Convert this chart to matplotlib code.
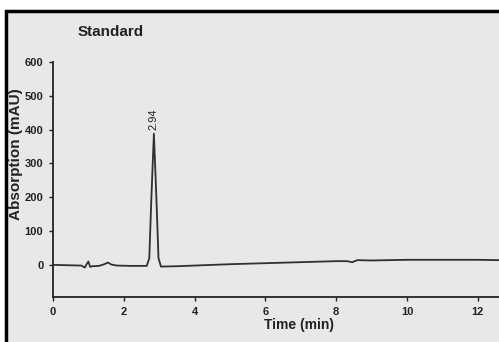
import matplotlib.pyplot as plt
from matplotlib.patches import Rectangle

plt.rcParams['font.family'] = ['Liberation Sans', 'DejaVu Sans']

# chromatogram trace: retention time (min) and absorption (mAU)
time_min = [0.0, 0.4, 0.8, 0.9, 0.95, 1.0, 1.05, 1.1, 1.3, 1.45, 1.55, 1.65, 1.8, 2.2,
            2.65, 2.72, 2.78, 2.85, 2.92, 2.98, 3.05, 3.5, 4.0, 5.0, 6.0, 7.0, 8.0,
            8.3, 8.45, 8.6, 9.0, 10.0, 11.0, 12.0, 12.6]
absorb = [0, -1, -2, -8, 2, 10, -6, -4, -3, 2, 7, 1, -2, -3,
          -3, 20, 200, 388, 200, 20, -5, -4, -2, 2, 5, 8, 11,
          11, 8, 14, 13, 15, 15, 15, 14]

peak_time = 2.85
peak_height = 388
peak_label = "2.94"

yticks = [0, 100, 200, 300, 400, 500, 600]
xticks = [0, 2, 4, 6, 8, 10, 12]

fig = plt.figure(figsize=(4.99, 3.42), dpi=100)
fig.patch.set_facecolor('white')

# scanned page area with black frame
fig.patches.append(Rectangle((6 / 499, -0.05), 1.2, 1 - 11 / 342 + 0.05,
                             transform=fig.transFigure, facecolor='#e8e8e8',
                             edgecolor='black', linewidth=2.5, zorder=-5))

ax = fig.add_axes([53 / 499, 1 - 297 / 342, 1 - 53 / 499, (297 - 62) / 342])
ax.set_zorder(2)
ax.set_facecolor('none')
ax.plot(time_min, absorb, color='#303030', linewidth=1.3)

ax.set_xlim(0, 12.6)
ax.set_ylim(-95, 600)
ax.set_xticks(xticks)
ax.set_yticks(yticks)
ax.tick_params(axis='both', labelsize=8, width=1, length=3, color='#222222', pad=4)
for lbl in ax.get_xticklabels() + ax.get_yticklabels():
    lbl.set_fontweight('bold')
    lbl.set_color('#222222')

for side in ['top', 'right']:
    ax.spines[side].set_visible(False)
for side in ['left', 'bottom']:
    ax.spines[side].set_linewidth(1.3)
    ax.spines[side].set_color('#222222')

ax.text(peak_time, peak_height + 12, peak_label, rotation=90, ha='center', va='bottom',
        fontsize=8, color='#222222')

fig.text(78 / 499, 1 - 32 / 342, "Standard", fontsize=11, fontweight='bold',
         ha='left', va='center', color='#222222')
fig.text(16 / 499, 1 - 154 / 342, "Absorption (mAU)", rotation=90, fontsize=11,
         fontweight='bold', ha='center', va='center', color='#222222')
fig.text(299 / 499, 1 - 325 / 342, "Time (min)", fontsize=10, fontweight='bold',
         ha='center', va='center', color='#222222')

fig.savefig('out.png', dpi=100)
